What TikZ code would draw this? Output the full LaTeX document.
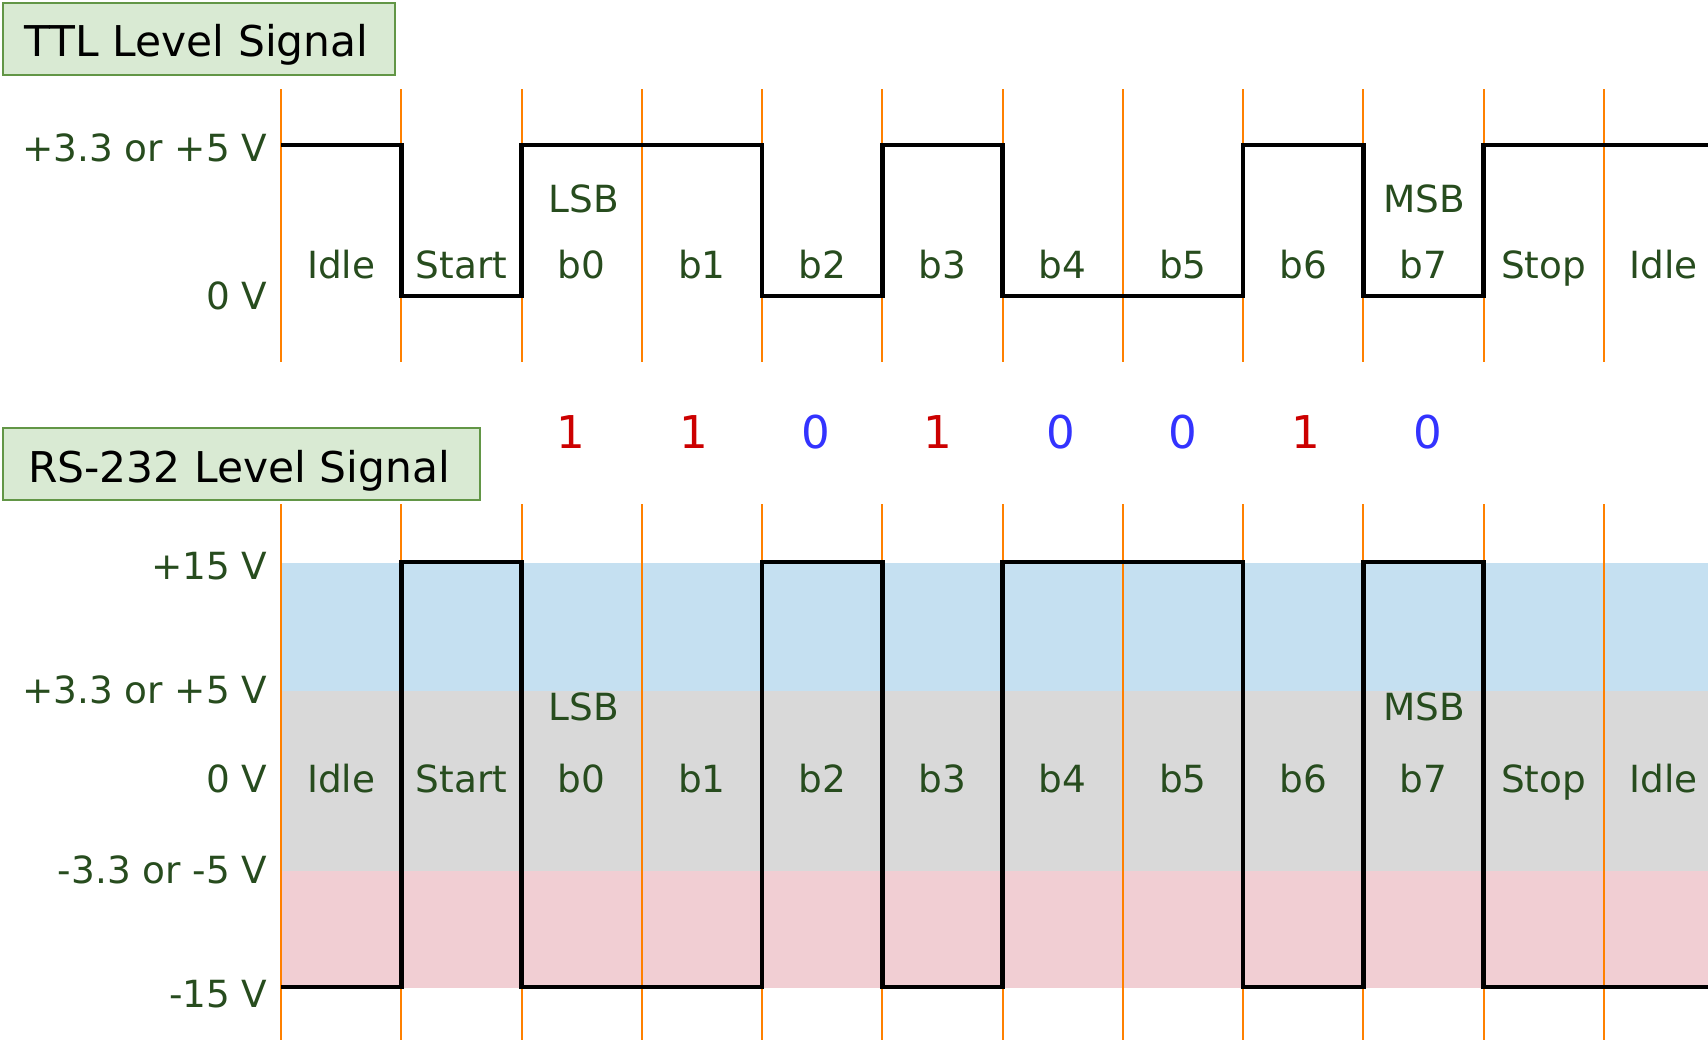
\documentclass[tikz,border=0pt]{standalone}
\usepackage{fontspec}
\setmainfont{DejaVu Sans}
\definecolor{tick}{RGB}{255,128,0}
\definecolor{lbl}{RGB}{39,76,30}
\definecolor{boxfill}{RGB}{217,234,211}
\definecolor{boxline}{RGB}{98,150,70}
\definecolor{bandhi}{RGB}{197,224,241}
\definecolor{bandmid}{RGB}{217,217,217}
\definecolor{bandlo}{RGB}{241,206,211}
\definecolor{oneclr}{RGB}{204,0,0}
\definecolor{zeroclr}{RGB}{51,51,255}
\newcommand{\lblfont}{\fontsize{18.7}{22}\selectfont}
\newcommand{\titlefont}{\fontsize{21.2}{25}\selectfont}
\newcommand{\bitfont}{\fontsize{22.6}{27}\selectfont}
\begin{document}
\begin{tikzpicture}[x=0.5pt,y=-0.5pt,
  grid/.style={draw=tick, line width=1pt},
  wave/.style={draw=black, line width=2.4pt, line join=miter},
  lvl/.style={text=lbl, font=\lblfont, anchor=base east, inner sep=0pt},
  slot/.style={text=lbl, font=\lblfont, anchor=base, inner sep=0pt},
  bit/.style={font=\bitfont, anchor=base, inner sep=0pt},
  titlebox/.style={draw=boxline, fill=boxfill, line width=1pt, inner sep=0pt},
  titletext/.style={font=\titlefont, anchor=base, inner sep=0pt}]
\useasboundingbox (0,0) rectangle (1708,1040);

% voltage bands behind the RS-232 waveform
\fill[bandhi]  (281,563) rectangle (1708,691);
\fill[bandmid] (281,691) rectangle (1708,871);
\fill[bandlo]  (281,871) rectangle (1708,988);

% bit-slot boundaries
\foreach \k in {0,...,11} {
  \draw[grid] (281+120.25*\k,89) -- (281+120.25*\k,362);
  \draw[grid] (281+120.25*\k,504) -- (281+120.25*\k,1040);
}

% TTL waveform
\draw[wave] (281,145) -- (401.25,145) -- (401.25,296) -- (521.5,296)
  -- (521.5,145) -- (762,145) -- (762,296) -- (882.25,296)
  -- (882.25,145) -- (1002.5,145) -- (1002.5,296) -- (1243,296)
  -- (1243,145) -- (1363.25,145) -- (1363.25,296) -- (1483.5,296)
  -- (1483.5,145) -- (1708,145);

% RS-232 waveform (inverted)
\draw[wave] (281,987) -- (401.25,987) -- (401.25,562) -- (521.5,562)
  -- (521.5,987) -- (762,987) -- (762,562) -- (882.25,562)
  -- (882.25,987) -- (1002.5,987) -- (1002.5,562) -- (1243,562)
  -- (1243,987) -- (1363.25,987) -- (1363.25,562) -- (1483.5,562)
  -- (1483.5,987) -- (1708,987);

% section titles
\node[titlebox, minimum width=196pt, minimum height=36pt] (ttlbox) at (199,39) {};
\node[titletext] (ttltitle) at (196.5,56) {TTL Level Signal};
\node[titlebox, minimum width=238.5pt, minimum height=36pt] (rsbox) at (241.5,464) {};
\node[titletext] (rstitle) at (239,482) {RS-232 Level Signal};

% voltage levels
\node[lvl] (t5v)  at (268,161) {+3.3 or +5 V};
\node[lvl] (t0v)  at (268,309) {0 V};
\node[lvl] (r15)  at (268,579) {+15 V};
\node[lvl] (r5)   at (268,703) {+3.3 or +5 V};
\node[lvl] (r0)   at (268,792) {0 V};
\node[lvl] (rm5)  at (268,883) {-3.3 or -5 V};
\node[lvl] (rm15) at (268,1007) {-15 V};

% slot names
\foreach \name [count=\i from 0] in {Idle,Start,b0,b1,b2,b3,b4,b5,b6,b7,Stop,Idle} {
  \node[slot] (ts\i) at (341.1+120.25*\i,278) {\name};
  \node[slot] (rs\i) at (341.1+120.25*\i,792) {\name};
}
\node[slot] (tlsb) at (584,212) {LSB};
\node[slot] (tmsb) at (1424,212) {MSB};
\node[slot] (rlsb) at (584,720) {LSB};
\node[slot] (rmsb) at (1424,720) {MSB};

% data bits
\foreach \v [count=\i from 0] in {1,1,0,1,0,0,1,0} {
  \ifnum\v=1
    \node[bit, text=oneclr] (d\i) at (571+122.4*\i,448) {1};
  \else
    \node[bit, text=zeroclr] (d\i) at (571+122.4*\i,448) {0};
  \fi
}
\end{tikzpicture}
\end{document}
